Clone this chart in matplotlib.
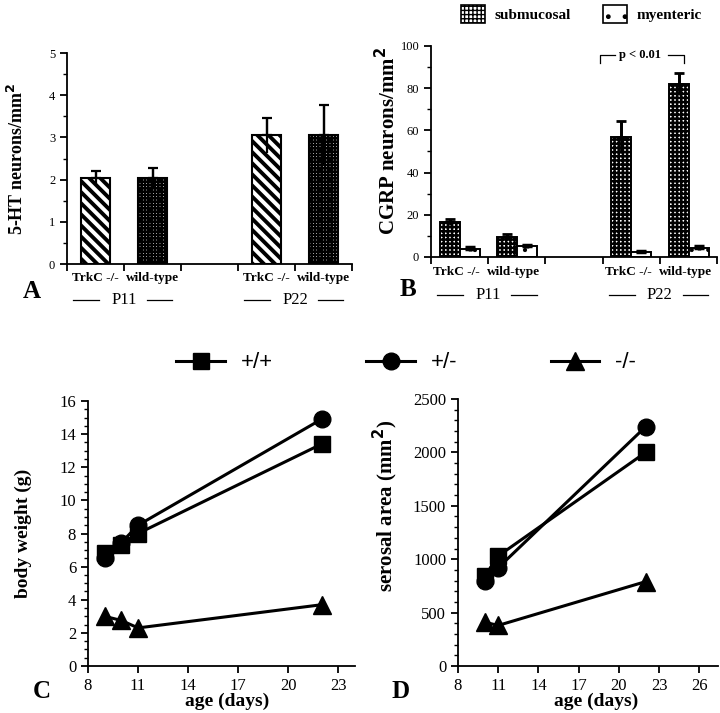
"""
Four-panel figure: 5-HT and CGRP neuron density bars (A, B),
body weight and serosal area growth curves (C, D).
"""
import matplotlib
matplotlib.use('Agg')
import matplotlib.pyplot as plt
from matplotlib.patches import Patch
from matplotlib.lines import Line2D
from matplotlib.ticker import MultipleLocator
import numpy as np

plt.rcParams['font.family'] = ['Liberation Serif', 'DejaVu Serif']
plt.rcParams['axes.linewidth'] = 1.3
plt.rcParams['xtick.major.width'] = 1.3
plt.rcParams['ytick.major.width'] = 1.3
plt.rcParams['ytick.minor.width'] = 1.0

# ---- data -------------------------------------------------------------
groups = ['TrkC -/-', 'wild-type', 'TrkC -/-', 'wild-type']
ages = ['P11', 'P22']
slots = [0, 1, 3, 4]          # empty slot between the two ages

ht_mean = [2.03, 2.03, 3.05, 3.05]
ht_err = [0.17, 0.25, 0.42, 0.73]

cgrp_sub = [16.5, 9.7, 57.0, 82.0]
cgrp_sub_err = [1.3, 1.4, 7.5, 5.3]
cgrp_my = [3.6, 5.0, 2.2, 4.2]
cgrp_my_err = [0.9, 0.6, 0.5, 0.9]

age_c = [9, 10, 11, 22]
bw_wt = [6.85, 7.3, 8.0, 13.4]
bw_het = [6.55, 7.45, 8.5, 14.9]
bw_ko = [3.0, 2.75, 2.3, 3.7]

age_d = [10, 11, 22]
area_wt = [840, 1030, 2000]
area_het = [800, 920, 2240]
area_ko = [410, 380, 790]

fig = plt.figure(figsize=(7.2, 7.13), dpi=100)
axA = fig.add_axes([0.0931, 0.6297, 0.3958, 0.2959])
axB = fig.add_axes([0.5986, 0.6396, 0.3972, 0.2959])
axC = fig.add_axes([0.1222, 0.0659, 0.3708, 0.3717])
axD = fig.add_axes([0.6361, 0.0659, 0.3611, 0.3745])


def style_axes(ax):
    for s in ['top', 'right']:
        ax.spines[s].set_visible(False)
    ax.tick_params(direction='out', length=5, labelsize=9)
    ax.tick_params(which='minor', direction='out', length=3)


def errbars(ax, x, y, e, lw, cap):
    # full bar line, cap only on top
    ax.errorbar(x, y, yerr=e, fmt='none', ecolor='black', elinewidth=lw, capsize=0, zorder=4)
    ax.errorbar(x, y, yerr=[np.zeros(len(e)), e], fmt='none', ecolor='black',
                elinewidth=lw, capsize=cap, capthick=lw, zorder=4)


def group_labels(ax, xs, y_cat, y_age):
    tr = ax.get_xaxis_transform()
    for x, g in zip(xs, groups):
        ax.text(x, y_cat, g, transform=tr, ha='center', va='center',
                fontsize=9.5, fontweight='bold')
    for c, a in zip([1, 4], ages):
        ax.text(c, y_age, a, transform=tr, ha='center', va='center', fontsize=12)
        for a0, a1 in [(-0.89, -0.44), (0.40, 0.85)]:
            ax.plot([c + a0, c + a1], [y_age, y_age], transform=tr, color='black',
                    lw=0.9, clip_on=False)


# ---- panel A ----------------------------------------------------------
xa = np.array(slots) + 0.5
with plt.rc_context({'hatch.linewidth': 2.8}):
    axA.bar(xa[[0, 2]], np.array(ht_mean)[[0, 2]], width=0.52, facecolor='white',
            edgecolor='black', linewidth=1.5, hatch='\\\\\\', zorder=2)
with plt.rc_context({'hatch.linewidth': 1.7}):
    axA.bar(xa[[1, 3]], np.array(ht_mean)[[1, 3]], width=0.52, facecolor='white',
            edgecolor='black', linewidth=1.5, hatch='+++++', zorder=2)
errbars(axA, xa, ht_mean, ht_err, 1.6, 3.5)
axA.set_xlim(0, 5)
axA.set_ylim(0, 5)
axA.set_xticks(range(6))
axA.set_xticklabels([])
axA.yaxis.set_major_locator(MultipleLocator(1))
axA.yaxis.set_minor_locator(MultipleLocator(0.5))
style_axes(axA)
axA.set_ylabel('5-HT neurons/mm$^{\\mathbf{2}}$', fontsize=13, fontweight='bold')
axA.yaxis.set_label_coords(-0.14, 0.5)
group_labels(axA, xa, -0.066, -0.17)
fig.text(0.044, 1 - 292 / 713, 'A', fontsize=18, fontweight='bold', ha='center', va='center')

# ---- panel B ----------------------------------------------------------
xs = np.array(slots) + 0.33
xm = np.array(slots) + 0.68
with plt.rc_context({'hatch.linewidth': 1.8}):
    axB.bar(xs, cgrp_sub, width=0.35, facecolor='white', edgecolor='black',
            linewidth=1.4, hatch='++++', zorder=2)
with plt.rc_context({'hatch.linewidth': 0.6}):
    axB.bar(xm, cgrp_my, width=0.35, facecolor='white', edgecolor='black',
            linewidth=1.4, hatch='.', zorder=2)
errbars(axB, xs, cgrp_sub, cgrp_sub_err, 2.0, 3.5)
errbars(axB, xm, cgrp_my, cgrp_my_err, 2.5, 3.5)
axB.set_xlim(0, 5)
axB.set_ylim(0, 100)
axB.set_xticks(range(6))
axB.set_xticklabels([])
axB.yaxis.set_major_locator(MultipleLocator(20))
axB.yaxis.set_minor_locator(MultipleLocator(10))
style_axes(axB)
axB.set_ylabel('CGRP neurons/mm$^{\\mathbf{2}}$', fontsize=15, fontweight='bold')
axB.yaxis.set_label_coords(-0.108, 0.55)
group_labels(axB, np.array(slots) + 0.45, -0.071, -0.18)

# significance bracket between P22 submucosal bars
bl, br, by, bd = 2.95, 4.42, 95.5, 92.0
axB.plot([bl, bl, bl + 0.26], [bd, by, by], color='black', lw=0.9, clip_on=False)
axB.plot([br - 0.28, br, br], [by, by, bd], color='black', lw=0.9, clip_on=False)
axB.text(3.66, by, 'p < 0.01', ha='center', va='center', fontsize=9, fontweight='bold')
fig.text(408 / 720, 1 - 289 / 713, 'B', fontsize=18, fontweight='bold', ha='center', va='center')

with plt.rc_context({'hatch.linewidth': 1.8}):
    h_sub = Patch(facecolor='white', edgecolor='black', hatch='++++', linewidth=1.2)
with plt.rc_context({'hatch.linewidth': 0.6}):
    h_my = Patch(facecolor='white', edgecolor='black', hatch='.', linewidth=1.2)
fig.legend([h_sub, h_my], ['submucosal', 'myenteric'], loc='center',
           bbox_to_anchor=(0.807, 0.980), ncol=2, frameon=False,
           prop={'size': 11, 'weight': 'bold'}, handlelength=1.6, handleheight=1.4,
           handletextpad=0.6, columnspacing=2.1)

# ---- panels C and D ---------------------------------------------------
line_kw = dict(color='black', lw=2.2)
axC.plot(age_c, bw_het, marker='o', ms=12, **line_kw)
axC.plot(age_c, bw_wt, marker='s', ms=12, **line_kw)
axC.plot(age_c, bw_ko, marker='^', ms=13, **line_kw)
axC.set_xlim(8, 24)
axC.set_ylim(0, 16)
axC.set_xticks([8, 11, 14, 17, 20, 23])
axC.yaxis.set_major_locator(MultipleLocator(2))
axC.yaxis.set_minor_locator(MultipleLocator(0.5))
style_axes(axC)
axC.tick_params(labelsize=12)
axC.set_ylabel('body weight (g)', fontsize=14, fontweight='bold')
axC.yaxis.set_label_coords(-0.21, 0.5)
axC.set_xlabel('age (days)', fontsize=14, fontweight='bold')
axC.xaxis.set_label_coords(0.52, -0.10)
fig.text(42 / 720, 1 - 692 / 713, 'C', fontsize=18, fontweight='bold', ha='center', va='center')

axD.plot(age_d, area_het, marker='o', ms=12, **line_kw)
axD.plot(age_d, area_wt, marker='s', ms=12, **line_kw)
axD.plot(age_d, area_ko, marker='^', ms=13, **line_kw)
axD.set_xlim(8, 27.4)
axD.set_ylim(0, 2500)
axD.set_xticks([8, 11, 14, 17, 20, 23, 26])
axD.yaxis.set_major_locator(MultipleLocator(500))
axD.yaxis.set_minor_locator(MultipleLocator(100))
style_axes(axD)
axD.tick_params(labelsize=12)
axD.set_ylabel('serosal area (mm$^{\\mathbf{2}}$)', fontsize=15, fontweight='bold')
axD.yaxis.set_label_coords(-0.223, 0.6)
axD.set_xlabel('age (days)', fontsize=14, fontweight='bold')
axD.xaxis.set_label_coords(0.53, -0.10)
fig.text(401 / 720, 1 - 691 / 713, 'D', fontsize=18, fontweight='bold', ha='center', va='center')

handles = [Line2D([], [], marker=m, ms=s, **line_kw)
           for m, s in [('s', 12), ('o', 12), ('^', 13)]]
fig.legend(handles, ['+/+', '+/-', '-/-'], loc='center', bbox_to_anchor=(0.564, 0.491),
           ncol=3, frameon=False, prop={'family': 'Liberation Sans', 'size': 16},
           handlelength=2.2, handletextpad=0.7, columnspacing=4.2)

fig.savefig('out.png', dpi=100)
plt.close(fig)
